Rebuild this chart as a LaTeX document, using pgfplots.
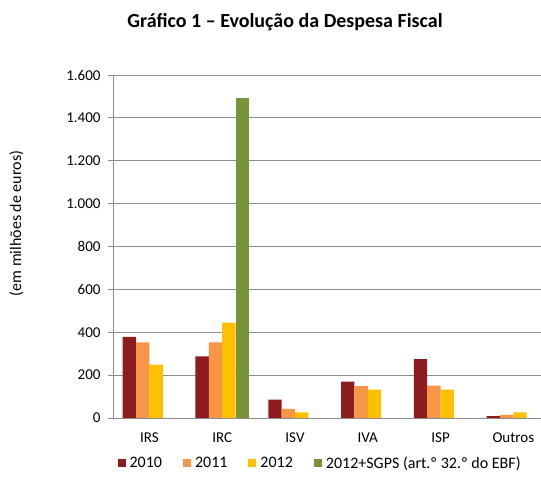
\documentclass[border=0pt]{standalone}
\usepackage{pgfplots}
\pgfplotsset{compat=1.18}
\usepackage{fontspec}
\setmainfont{Carlito}
\definecolor{c2010}{HTML}{8E1B1D}
\definecolor{c2011}{HTML}{F79646}
\definecolor{c2012}{HTML}{FFC000}
\definecolor{csgps}{HTML}{77933C}
\definecolor{gridc}{HTML}{8C8C8C}
\begin{document}
\begin{tikzpicture}[x=1pt,y=1pt]
\useasboundingbox (0,0) rectangle (541,497);
\node[font=\fontsize{20}{22}\selectfont\bfseries] at (285,475) {Gráfico 1 – Evolução da Despesa Fiscal};
\node[rotate=90,font=\fontsize{16}{18}\selectfont] at (16.5,273.5) {(em milhões de euros)};
\begin{axis}[
  at={(113pt,79pt)}, anchor=south west,
  scale only axis, width=428pt, height=343pt,
  xmin=-0.5, xmax=5.38, ymin=0, ymax=1600,
  axis x line*=bottom, axis y line*=left,
  axis line style={gridc, line width=0.8pt},
  ymajorgrids, grid style={gridc, line width=0.8pt},
  ytick={0,200,...,1600},
  xtick={0,1,2,3,4,5},
  xticklabels={IRS,IRC,ISV,IVA,ISP,Outros},
  x tick style={draw=none},
  extra x ticks={-0.5,0.5,1.5,2.5,3.5,4.5},
  extra x tick labels={},
  extra x tick style={tick style={gridc, line width=0.8pt}, major tick length=5pt, tick align=outside, xmajorgrids=false},
  y tick style={gridc, line width=0.8pt},
  major tick length=5pt, tick align=outside,
  /pgf/number format/assume math mode=true,
  /pgf/number format/1000 sep={.},
  tick label style={font=\fontsize{15}{17}\selectfont},
  xticklabel style={yshift=-6pt},
  yticklabel style={xshift=-4pt},
  ybar=0pt, bar width=0.1835,
  legend columns=4,
  legend style={at={(0.484,-0.131)}, anchor=center, draw=none, font=\fontsize{16}{18}\selectfont,
    /tikz/every odd column/.append style={column sep=2pt},
    /tikz/every even column/.append style={column sep=19pt}},
  legend image code/.code={\fill[#1] (0pt,-4pt) rectangle (8pt,4pt);},
]
\addplot[fill=c2010, draw=none, bar shift=-0.27525] coordinates {(0,378) (1,288) (2,86) (3,170) (4,275) (5,9)};
\addplot[fill=c2011, draw=none, bar shift=-0.09175] coordinates {(0,353) (1,353) (2,42) (3,149) (4,151) (5,14)};
\addplot[fill=c2012, draw=none, bar shift=0.09175] coordinates {(0,249) (1,445) (2,26) (3,132) (4,132) (5,26)};
\addplot[fill=csgps, draw=none, bar shift=0.27525] coordinates {(1,1493)};
\legend{2010,2011,2012,2012+SGPS (art.º 32.º do EBF)}
\end{axis}
\end{tikzpicture}
\end{document}
